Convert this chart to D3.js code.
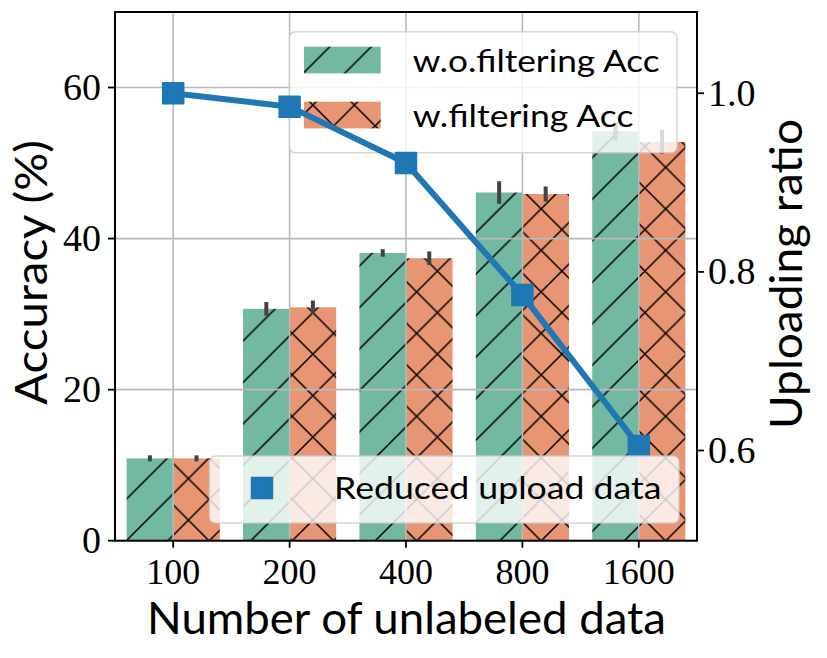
<!DOCTYPE html>
<html><head><meta charset="utf-8">
<script src="https://cdn.jsdelivr.net/npm/d3@7"></script>
<style>body{margin:0;background:#fff}svg{display:block}</style>
</head><body>
<svg id="c" width="827" height="658"></svg>
<script>
const categories = ["100","200","400","800","1600"];
const seriesNames = ["w.o.filtering Acc","w.filtering Acc"];
const accNoFilter = [10.9, 30.7, 38.1, 46.1, 54.2];
const accFilter   = [10.9, 30.9, 37.4, 45.9, 52.8];
const errNoFilter = [0.4, 0.9, 0.5, 1.5, 1.2];
const errFilter   = [0.4, 0.9, 0.9, 1.0, 1.6];
const uploadRatio = [1.0, 0.985, 0.922, 0.774, 0.605];
const leftTicks = [0, 20, 40, 60];
const rightTicks = [0.6, 0.8, 1.0];
const lineName = "Reduced upload data";

const svg = d3.select("#c");
const L = 115, R = 697, T = 12, B = 540.7;
const green = "#73b8a1", orange = "#e89574", blue = "#1f77b4";
const serif = "'Liberation Serif', serif", sans = "Lato, 'Open Sans', sans-serif";

const x = d3.scaleBand().domain(categories).range([L, R]).paddingInner(0.2).paddingOuter(0.1);
const xs = d3.scaleBand().domain([0,1]).range([0, x.bandwidth()]).padding(0);
const y = d3.scaleLinear().domain([0, 70]).range([B, T]);
const y2 = d3.scaleLinear().domain([0.499, 1.091]).range([B, T]);

// hatch patterns
const P = 41.5;
const defs = svg.append("defs");
function pat(id, color, cross) {
  const p = defs.append("pattern").attr("id", id).attr("patternUnits", "userSpaceOnUse")
    .attr("width", P).attr("height", P).attr("x", 1.65).attr("y", 1.35);
  p.append("rect").attr("width", P).attr("height", P).attr("fill", color);
  let d = `M0,${P} L${P},0 M-2,2 L2,-2 M${P-2},${P+2} L${P+2},${P-2}`;
  if (cross) d += ` M0,0 L${P},${P} M-2,${P-2} L2,${P+2} M${P-2},-2 L${P+2},2`;
  p.append("path").attr("d", d).attr("stroke", "#000").attr("stroke-width", 1.5).attr("fill", "none");
}
pat("hg", green, false);
pat("ho", orange, true);

const series = [
  {vals: accNoFilter, err: errNoFilter, fill: "url(#hg)"},
  {vals: accFilter, err: errFilter, fill: "url(#ho)"}
];

// bars
series.forEach((s, si) => {
  svg.append("g").selectAll("rect").data(categories).join("rect")
    .attr("x", c => x(c) + xs(si))
    .attr("width", xs.bandwidth())
    .attr("y", (c, i) => y(s.vals[i]))
    .attr("height", (c, i) => y(0) - y(s.vals[i]))
    .attr("fill", s.fill);
});

// grid (drawn over bars)
const grid = svg.append("g").attr("stroke", "#b9b9b9").attr("stroke-width", 1.6);
leftTicks.forEach(t => grid.append("line").attr("x1", L).attr("x2", R).attr("y1", y(t)).attr("y2", y(t)));
categories.forEach(c => grid.append("line").attr("x1", x(c) + x.bandwidth()/2).attr("x2", x(c) + x.bandwidth()/2).attr("y1", T).attr("y2", B));

// error bars
series.forEach((s, si) => {
  svg.append("g").selectAll("line").data(categories).join("line")
    .attr("x1", c => x(c) + xs(si) + xs.bandwidth()/2)
    .attr("x2", c => x(c) + xs(si) + xs.bandwidth()/2)
    .attr("y1", (c, i) => y(s.vals[i] - s.err[i]))
    .attr("y2", (c, i) => y(s.vals[i] + s.err[i]))
    .attr("stroke", "#424242").attr("stroke-width", 4);
});

// axes ticks
const ax = svg.append("g").attr("stroke", "#000").attr("stroke-width", 1.8);
categories.forEach(c => ax.append("line").attr("x1", x(c)+x.bandwidth()/2).attr("x2", x(c)+x.bandwidth()/2).attr("y1", B).attr("y2", B+7));
leftTicks.forEach(t => ax.append("line").attr("x1", L-7).attr("x2", L).attr("y1", y(t)).attr("y2", y(t)));
rightTicks.forEach(t => ax.append("line").attr("x1", R).attr("x2", R+7).attr("y1", y2(t)).attr("y2", y2(t)));

svg.append("g").selectAll("text").data(categories).join("text")
  .attr("x", c => x(c)+x.bandwidth()/2).attr("y", 584)
  .attr("text-anchor", "middle").attr("font-family", serif).attr("font-size", 36).text(c => c);
svg.append("g").selectAll("text").data(leftTicks).join("text")
  .attr("x", 101).attr("y", t => y(t) + 12.5)
  .attr("text-anchor", "end").attr("font-family", serif).attr("font-size", 38).text(t => t);
svg.append("g").selectAll("text").data(rightTicks).join("text")
  .attr("x", 708).attr("y", t => y2(t) + 12.5)
  .attr("text-anchor", "start").attr("font-family", serif).attr("font-size", 38).text(t => d3.format(".1f")(t));

// axis labels
svg.append("text").attr("x", 406.5).attr("y", 634).attr("text-anchor", "middle")
  .attr("font-family", sans).attr("font-size", 44).attr("textLength", 519).attr("lengthAdjust", "spacingAndGlyphs")
  .text("Number of unlabeled data");
svg.append("text").attr("transform", "translate(46.5,272.5) rotate(-90)").attr("text-anchor", "middle")
  .attr("font-family", sans).attr("font-size", 44).attr("textLength", 265).attr("lengthAdjust", "spacingAndGlyphs")
  .text("Accuracy (%)");
svg.append("text").attr("transform", "translate(802,274) rotate(-90)").attr("text-anchor", "middle")
  .attr("font-family", sans).attr("font-size", 44).attr("textLength", 310).attr("lengthAdjust", "spacingAndGlyphs")
  .text("Uploading ratio");

// legend 1
const lg1 = svg.append("g");
lg1.append("rect").attr("x", 289.5).attr("y", 31.7).attr("width", 387.5).attr("height", 121)
  .attr("rx", 6).attr("fill", "#fff").attr("fill-opacity", 0.8).attr("stroke", "#cccccc").attr("stroke-width", 1.5).attr("stroke-opacity", 0.8);
const legW = [247, 220.7];
seriesNames.forEach((n, i) => {
  lg1.append("rect").attr("x", 304).attr("y", 46.7 + i*55).attr("width", 76.7).attr("height", 26.7).attr("fill", series[i].fill);
  lg1.append("text").attr("x", 412.7).attr("y", 71.5 + i*55).attr("font-family", sans).attr("font-size", 30)
    .attr("textLength", legW[i]).attr("lengthAdjust", "spacingAndGlyphs").text(n);
});

// spines
svg.append("rect").attr("x", L).attr("y", T).attr("width", R-L).attr("height", B-T)
  .attr("fill", "none").attr("stroke", "#000").attr("stroke-width", 2);

// line on twin axis
const pts = categories.map((c, i) => [x(c)+x.bandwidth()/2, y2(uploadRatio[i])]);
svg.append("path").attr("d", d3.line()(pts)).attr("fill", "none").attr("stroke", blue).attr("stroke-width", 6).attr("stroke-linejoin", "round");
const ms = 21;
svg.append("g").selectAll("rect").data(pts).join("rect")
  .attr("x", d => d[0]-ms/2).attr("y", d => d[1]-ms/2).attr("width", ms).attr("height", ms)
  .attr("fill", blue).attr("stroke", blue).attr("stroke-width", 1.5).attr("stroke-linejoin", "round");

// legend 2
const lg2 = svg.append("g");
lg2.append("rect").attr("x", 209.5).attr("y", 456).attr("width", 469.5).attr("height", 67)
  .attr("rx", 6).attr("fill", "#fff").attr("fill-opacity", 0.8).attr("stroke", "#cccccc").attr("stroke-width", 1.5).attr("stroke-opacity", 0.8);
lg2.append("rect").attr("x", 262-ms/2).attr("y", 488-ms/2).attr("width", ms).attr("height", ms)
  .attr("fill", blue).attr("stroke", blue).attr("stroke-width", 1.5).attr("stroke-linejoin", "round");
lg2.append("text").attr("x", 334).attr("y", 498.5).attr("font-family", sans).attr("font-size", 30)
  .attr("textLength", 327.5).attr("lengthAdjust", "spacingAndGlyphs").text(lineName);
</script>
</body></html>
